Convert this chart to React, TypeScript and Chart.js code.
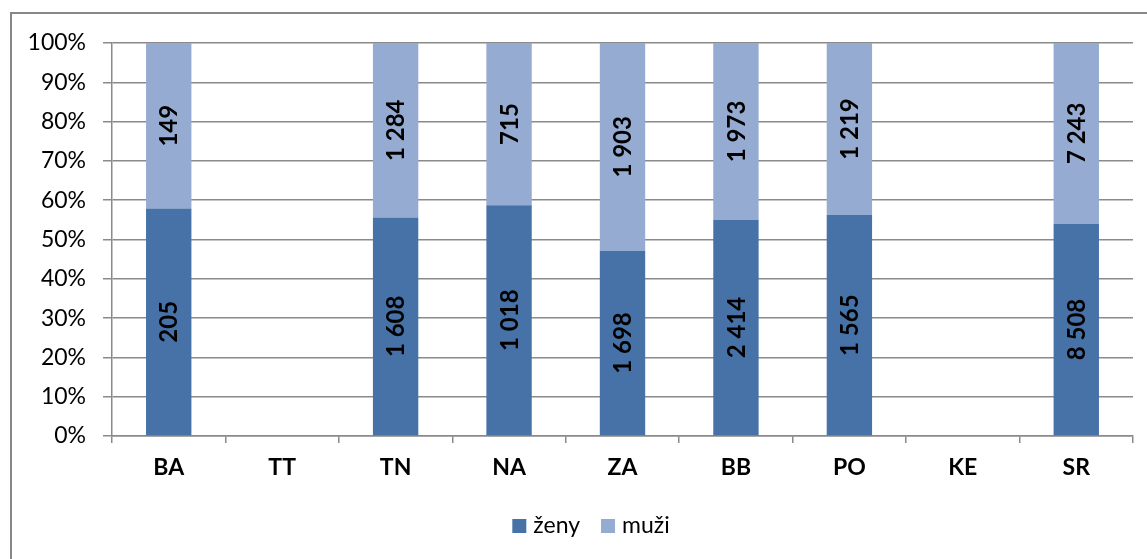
import React, { useEffect, useRef } from 'react';
import { Chart, registerables } from 'chart.js';

Chart.register(...registerables);

const categories = ['BA', 'TT', 'TN', 'NA', 'ZA', 'BB', 'PO', 'KE', 'SR'];
const zeny = [205, 0, 1608, 1018, 1698, 2414, 1565, 0, 8508];
const muzi = [149, 0, 1284, 715, 1903, 1973, 1219, 0, 7243];
const seriesNames = ['ženy', 'muži'];
const seriesColors = ['#4672A8', '#95ABD1'];
const rawSeries = [zeny, muzi];

const FONT = 'Lato, "Open Sans", sans-serif';
const GRID = '#8a8a8a';

const fmt = (n: number) => String(n).replace(/\B(?=(\d{3})+(?!\d))/g, ' ');

const toPct = (arr: number[]) =>
  arr.map((v, i) => {
    const total = zeny[i] + muzi[i];
    return total > 0 ? (v / total) * 100 : null;
  });

const segLabels = {
  id: 'segLabels',
  afterDatasetsDraw(chart: any) {
    const ctx = chart.ctx;
    ctx.save();
    ctx.font = `bold 24px ${FONT}`;
    ctx.fillStyle = '#000';
    ctx.textAlign = 'center';
    ctx.textBaseline = 'middle';
    chart.data.datasets.forEach((_ds: any, di: number) => {
      const meta = chart.getDatasetMeta(di);
      meta.data.forEach((el: any, i: number) => {
        const raw = rawSeries[di][i];
        if (!raw) return;
        const { x, y, base } = el.getProps(['x', 'y', 'base'], true);
        ctx.save();
        ctx.translate(x + 1, (y + base) / 2);
        ctx.rotate(-Math.PI / 2);
        ctx.fillText(fmt(raw), 0, 0);
        ctx.restore();
      });
    });
    ctx.restore();
  },
};

const customLegend = {
  id: 'customLegend',
  afterDraw(chart: any) {
    const ctx = chart.ctx;
    ctx.save();
    ctx.font = `23px ${FONT}`;
    ctx.textBaseline = 'middle';
    ctx.textAlign = 'left';
    const box = 14;
    const gap = 7;
    const itemGap = 21;
    const widths = seriesNames.map((n) => ctx.measureText(n).width);
    const total = widths.reduce((a, w) => a + box + gap + w, 0) + itemGap * (seriesNames.length - 1);
    const centerX = 591;
    const cy = 526;
    let x = centerX - total / 2;
    seriesNames.forEach((name, i) => {
      ctx.fillStyle = seriesColors[i];
      ctx.fillRect(x, cy - box / 2, box, box);
      x += box + gap;
      ctx.fillStyle = '#000';
      ctx.fillText(name, x, cy);
      x += widths[i] + itemGap;
    });
    ctx.restore();
  },
};

export default function App() {
  const ref = useRef<HTMLCanvasElement | null>(null);

  useEffect(() => {
    if (!ref.current) return;
    const chart = new Chart(ref.current, {
      type: 'bar',
      data: {
        labels: categories,
        datasets: seriesNames.map((name, i) => ({
          label: name,
          data: toPct(rawSeries[i]) as any,
          backgroundColor: seriesColors[i],
          borderWidth: 0,
          barPercentage: 0.4,
          categoryPercentage: 1,
        })),
      },
      options: {
        animation: false,
        responsive: false,
        maintainAspectRatio: false,
        layout: { padding: { left: 0, top: 43, right: 14, bottom: 0 } },
        plugins: {
          legend: { display: false },
          tooltip: { enabled: false },
        },
        scales: {
          x: {
            stacked: true,
            grid: {
              display: true,
              drawOnChartArea: false,
              drawTicks: true,
              tickLength: 7,
              color: GRID,
              lineWidth: 1.5,
              offset: true,
            },
            border: { display: true, color: GRID, width: 1.5 },
            ticks: {
              color: '#000',
              font: { family: FONT, size: 23, weight: 'bold' },
              padding: 11,
              maxRotation: 0,
            },
            afterFit: (scale: any) => {
              scale.height = 123;
            },
          },
          y: {
            stacked: true,
            min: 0,
            max: 100,
            grid: {
              color: GRID,
              lineWidth: 1.5,
              tickLength: 9,
              drawTicks: true,
            },
            border: { display: true, color: GRID, width: 1.5 },
            ticks: {
              stepSize: 10,
              color: '#000',
              font: { family: FONT, size: 23 },
              padding: 17,
              callback: (v: any) => `${v}%`,
            },
            afterFit: (scale: any) => {
              scale.width = 112;
            },
          },
        },
      },
      plugins: [segLabels, customLegend],
    });
    return () => chart.destroy();
  }, []);

  return (
    <div style={{ position: 'fixed', left: 0, top: 0, width: 1147, height: 559, background: '#fff', overflow: 'hidden' }}>
      <div
        style={{
          position: 'absolute',
          left: 10,
          top: 12,
          width: 1200,
          height: 600,
          borderLeft: '2px solid #878787',
          borderTop: '2px solid #878787',
        }}
      />
      <canvas ref={ref} width={1147} height={559} style={{ position: 'absolute', left: 0, top: 0 }} />
    </div>
  );
}
